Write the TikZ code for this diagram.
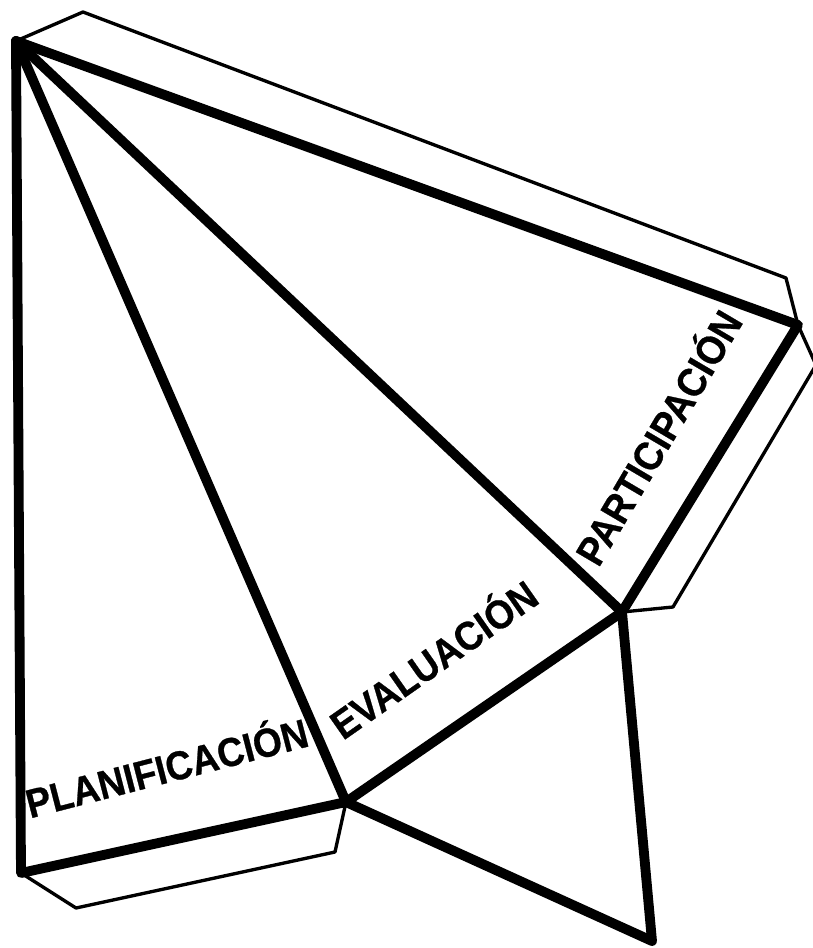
\documentclass[tikz,border=0pt]{standalone}
\usepackage{fontspec}
\setmainfont{Liberation Sans}
\newfontfamily\facefont[FakeBold=0.7]{Liberation Sans Bold}
\usetikzlibrary{calc}
\tikzset{
  fold/.style ={line width=5.6pt,line cap=round,line join=round},
  flap/.style ={line width=1.9pt,line join=round},
  face/.style ={font=\facefont\fontsize{23pt}{23pt}\selectfont,inner sep=0pt,xscale=0.915},
}
\begin{document}
\begin{tikzpicture}[x=0.02cm,y=-0.02cm]
  \useasboundingbox (0,0) rectangle (813,948);
  % net corners
  \coordinate (apex) at (16,41);
  \coordinate (east) at (798,325);
  \coordinate (mid) at (622,612);
  \coordinate (low) at (346,802);
  \coordinate (west) at (21,873);
  \coordinate (foot) at (652,941);
  % glue flaps
  \coordinate (flapa) at (83,12);
  \coordinate (flapb) at (786,278);
  \coordinate (flapc) at (816,365);
  \coordinate (flapd) at (673,607);
  \coordinate (flape) at (76,908);
  \coordinate (flapf) at (335,852);
  \draw[flap] (apex) -- (flapa) -- (flapb) -- (east);
  \draw[flap] (east) -- (flapc) -- (flapd) -- (mid);
  \draw[flap] (west) -- (flape) -- (flapf) -- (low);
  % fold lines
  \draw[fold] (apex) -- (east) -- (mid) -- (low) -- (west) -- cycle;
  \foreach \p in {mid,low}
    \draw[fold] (apex) -- (\p);
  \draw[fold] (low) -- (foot) -- (mid);
  % labels
  \node[rotate=14.5,face] (plan) at (166,765) {PLANIFICACIÓN};
  \node[rotate=35,face] (eval) at (432,657) {EVALUACIÓN};
  \node[rotate=59.5,face] (part) at (656,436) {PARTICIPACIÓN};
\end{tikzpicture}
\end{document}
